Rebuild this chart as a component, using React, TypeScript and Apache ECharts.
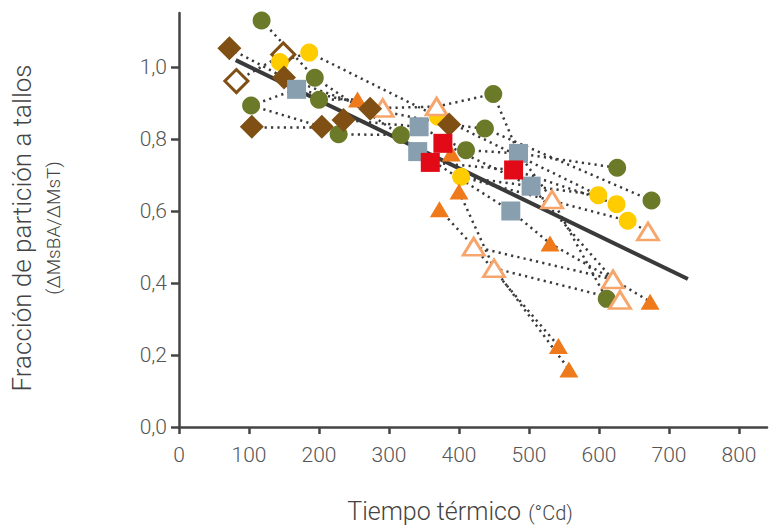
import React, { useEffect, useRef } from "react";
import * as echarts from "echarts";

// ---- data ----
const OLIVE_X = [118, 194, 200, 103, 228, 317, 410, 449, 437, 626, 675, 611];
const OLIVE_Y = [1.129, 0.97, 0.909, 0.893, 0.813, 0.811, 0.769, 0.925, 0.829, 0.72, 0.629, 0.356];

const YELLOW_X = [186, 144, 370, 403, 599, 625, 641];
const YELLOW_Y = [1.04, 1.014, 0.862, 0.695, 0.644, 0.619, 0.573];

const BROWN_X = [72, 150, 104, 204, 235, 273, 386];
const BROWN_Y = [1.052, 0.971, 0.834, 0.834, 0.853, 0.884, 0.84];

const HOLLOWDIA_X = [82, 149];
const HOLLOWDIA_Y = [0.961, 1.035];

const GREY_X = [168, 343, 341, 485, 503, 474];
const GREY_Y = [0.938, 0.834, 0.765, 0.76, 0.669, 0.6];

const RED_X = [377, 359, 478];
const RED_Y = [0.788, 0.735, 0.714];

const ORANGE_X = [255, 389, 400, 372, 530, 673, 542, 557];
const ORANGE_Y = [0.91, 0.76, 0.654, 0.605, 0.51, 0.348, 0.225, 0.16];

const HOLLOWTRI_X = [291, 368, 533, 670, 421, 450, 620, 630];
const HOLLOWTRI_Y = [0.886, 0.89, 0.632, 0.543, 0.501, 0.441, 0.41, 0.353];

// dotted connections between points (series code + 1-based index)
const LINKS: [string, string][] = [
  ["O1", "O2"], ["O2", "O6"], ["D1", "D2"], ["D2", "D6"], ["HD1", "HD2"],
  ["Y2", "Y1"], ["Y1", "Y3"], ["O4", "G1"], ["G1", "HT1"], ["O4", "D4"],
  ["D3", "D4"], ["D4", "O5"], ["O5", "O6"], ["O3", "T1"], ["HT1", "HT2"],
  ["D5", "G2"], ["D6", "D7"], ["HT2", "O8"], ["O8", "G4"], ["O6", "G3"],
  ["O7", "G4"], ["D7", "O9"], ["O9", "O11"], ["G4", "O10"], ["G2", "O7"],
  ["R2", "R3"], ["R1", "G5"], ["R3", "Y6"], ["Y3", "Y5"], ["G5", "Y5"],
  ["G5", "HT7"], ["Y4", "G5"], ["Y4", "Y7"], ["Y7", "HT4"], ["Y4", "T3"],
  ["G4", "HT3"], ["HT3", "O12"], ["G3", "G6"], ["G6", "T5"], ["T5", "HT7"],
  ["HT7", "T6"], ["T4", "HT5"], ["HT5", "T7"], ["HT5", "HT7"], ["T3", "HT6"],
  ["HT6", "T8"], ["HT6", "HT8"],
];

const TREND_X = [81, 727];
const TREND_Y = [1.019, 0.411];

const X_TICKS = [0, 100, 200, 300, 400, 500, 600, 700, 800];
const Y_TICKS = [0, 0.2, 0.4, 0.6, 0.8, 1.0];

const X_TITLE = "Tiempo térmico";
const X_UNIT = "(°Cd)";
const Y_TITLE = "Fracción de partición a tallos";
const Y_SUB = "(ΔMsBA/ΔMsT)";

const FONT = "Roboto, 'Noto Sans', sans-serif";

function zip(xs: number[], ys: number[]) {
  return xs.map((x, i) => [x, ys[i]]);
}

export default function App() {
  const ref = useRef<HTMLDivElement>(null);

  useEffect(() => {
    if (!ref.current) return;
    const chart = echarts.init(ref.current, undefined, { renderer: "svg" });

    const groups: Record<string, [number[], number[]]> = {
      O: [OLIVE_X, OLIVE_Y],
      Y: [YELLOW_X, YELLOW_Y],
      D: [BROWN_X, BROWN_Y],
      HD: [HOLLOWDIA_X, HOLLOWDIA_Y],
      G: [GREY_X, GREY_Y],
      R: [RED_X, RED_Y],
      T: [ORANGE_X, ORANGE_Y],
      HT: [HOLLOWTRI_X, HOLLOWTRI_Y],
    };
    const lookup = (id: string) => {
      const m = id.match(/^([A-Z]+)(\d+)$/)!;
      const [xs, ys] = groups[m[1]];
      const i = parseInt(m[2], 10) - 1;
      return [xs[i], ys[i]];
    };
    const linkData = LINKS.map(([a, b]) => ({ coords: [lookup(a), lookup(b)] }));

    const fmt = (v: number) => v.toFixed(1).replace(".", ",");

    const scatter = (name: string, xs: number[], ys: number[], symbol: string, size: any, itemStyle: any, z: number) => ({
      name,
      type: "scatter",
      data: zip(xs, ys),
      symbol,
      symbolSize: size,
      itemStyle: { opacity: 1, ...itemStyle },
      z,
      emphasis: { disabled: true },
    });

    chart.setOption({
      animation: false,
      grid: { left: 179, right: 2, top: 13, bottom: 99, containLabel: false },
      xAxis: {
        type: "value",
        min: 0,
        max: 840,
        interval: 100,
        axisLine: { show: true, lineStyle: { color: "#444", width: 2.5 } },
        axisTick: { show: true, length: 7, customValues: X_TICKS, lineStyle: { color: "#444", width: 2.5 } },
        axisLabel: {
          customValues: X_TICKS,
          color: "#555",
          fontSize: 21,
          fontFamily: FONT,
          fontWeight: 300,
          margin: 17,
          formatter: (v: number) => (X_TICKS.includes(v) ? String(v) : ""),
        },
        splitLine: { show: false },
      },
      yAxis: {
        type: "value",
        min: 0,
        max: 1.15,
        interval: 0.2,
        axisLine: { show: true, lineStyle: { color: "#444", width: 2.5 } },
        axisTick: { show: true, length: 8, customValues: Y_TICKS, lineStyle: { color: "#444", width: 2.5 } },
        axisLabel: {
          customValues: Y_TICKS,
          color: "#555",
          fontSize: 21,
          fontFamily: FONT,
          fontWeight: 300,
          margin: 12,
          formatter: (v: number) => (v <= 1.0001 ? fmt(v) : ""),
        },
        splitLine: { show: false },
      },
      series: [
        {
          type: "lines",
          coordinateSystem: "cartesian2d",
          data: linkData,
          lineStyle: { color: "#3a3a3a", width: 2.5, type: [2.2, 4.2], opacity: 1 },
          z: 1,
          silent: true,
        },
        {
          type: "line",
          data: zip(TREND_X, TREND_Y),
          symbol: "none",
          lineStyle: { color: "#3a3a3a", width: 4 },
          z: 2,
          silent: true,
        },
        scatter("olive", OLIVE_X, OLIVE_Y, "circle", 18, { color: "#6b7a29" }, 3),
        scatter("hollowDia", HOLLOWDIA_X, HOLLOWDIA_Y, "diamond", 23, { color: "#fff", borderColor: "#7f4f14", borderWidth: 3 }, 4),
        scatter("yellow", YELLOW_X, YELLOW_Y, "circle", 18, { color: "#ffcc00" }, 5),
        scatter("orange", ORANGE_X, ORANGE_Y, "triangle", [19, 16], { color: "#ee7a1b" }, 6),
        scatter("hollowTri", HOLLOWTRI_X, HOLLOWTRI_Y, "triangle", [21, 17], { color: "#fff", borderColor: "#f6a66c", borderWidth: 2.8 }, 7),
        scatter("brown", BROWN_X, BROWN_Y, "diamond", 24, { color: "#7f4f14" }, 8),
        scatter("grey", GREY_X, GREY_Y, "rect", 19, { color: "#879fae" }, 9),
        scatter("red", RED_X, RED_Y, "rect", 19, { color: "#e20a16" }, 10),
      ],
      graphic: [
        {
          type: "text",
          x: 22,
          y: 228,
          rotation: Math.PI / 2,
          style: {
            text: Y_TITLE,
            fill: "#444",
            font: `300 26px ${FONT}`,
            textAlign: "center",
            textVerticalAlign: "middle",
          },
        },
        {
          type: "text",
          x: 53,
          y: 228,
          rotation: Math.PI / 2,
          style: {
            text: Y_SUB,
            fill: "#444",
            font: `300 19px ${FONT}`,
            textAlign: "center",
            textVerticalAlign: "middle",
          },
        },
        {
          type: "text",
          x: 460,
          y: 511,
          style: {
            text: `{a|${X_TITLE}} {b|${X_UNIT}}`,
            textAlign: "center",
            textVerticalAlign: "middle",
            rich: {
              a: { fontSize: 25, fontWeight: 300, fontFamily: FONT, fill: "#444", color: "#444" },
              b: { fontSize: 20, fontWeight: 300, fontFamily: FONT, fill: "#444", color: "#444", padding: [4, 0, 0, 4] },
            },
          },
        },
      ],
    });

    return () => chart.dispose();
  }, []);

  return <div ref={ref} style={{ width: 769, height: 526, position: "absolute", left: 0, top: 0 }} />;
}
